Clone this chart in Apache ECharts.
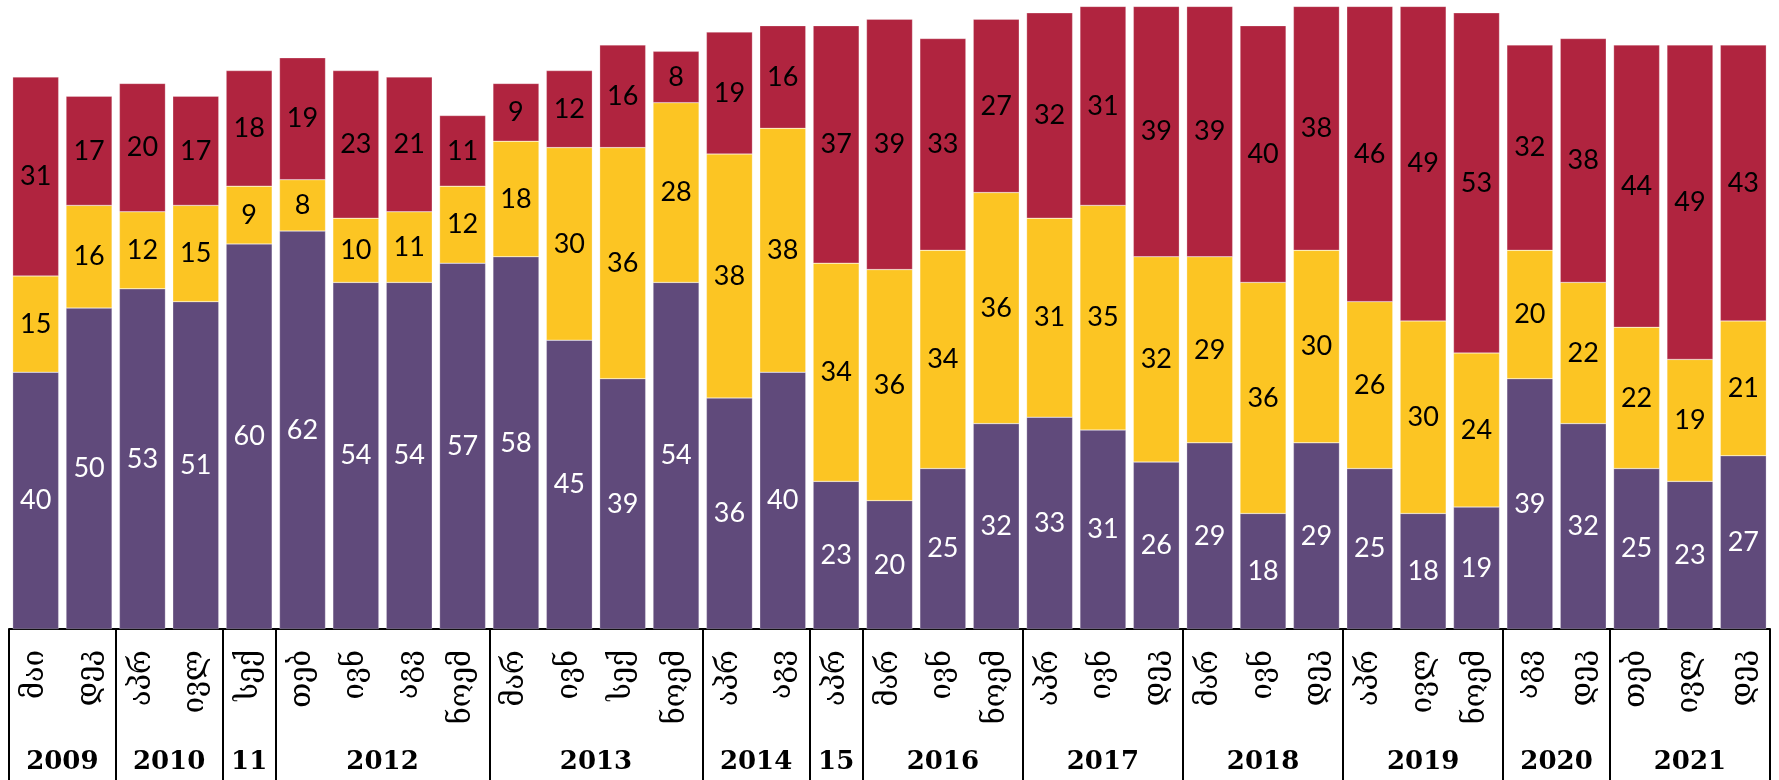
<!DOCTYPE html>
<html>
<head>
<meta charset="utf-8">
<script src="https://cdn.jsdelivr.net/npm/echarts@6/dist/echarts.min.js"></script>
<style>
html,body{margin:0;padding:0;background:#fff;}
#chart{width:1779px;height:780px;}
</style>
</head>
<body>
<div id="chart"></div>
<script>
const months = ['მაი','დეკ','აპრ','ივლ','სექ','თებ','ივნ','აგვ','ნოემ','მარ','ივნ','სექ','ნოემ','აპრ','აგვ','აპრ','მარ','ივნ','ნოემ','აპრ','ივნ','დეკ','მარ','ივნ','დეკ','აპრ','ივლ','ნოემ','აგვ','დეკ','თებ','ივლ','დეკ'];
const years = ['2009','2010','11','2012','2013','2014','15','2016','2017','2018','2019','2020','2021'];
const yearSizes = [2,2,1,4,4,2,1,3,3,3,3,2,3];
const purple = [40,50,53,51,60,62,54,54,57,58,45,39,54,36,40,23,20,25,32,33,31,26,29,18,29,25,18,19,39,32,25,23,27];
const yellow = [15,16,12,15,9,8,10,11,12,18,30,36,28,38,38,34,36,34,36,31,35,32,29,36,30,26,30,24,20,22,22,19,21];
const red    = [31,17,20,17,18,19,23,21,11,9,12,16,8,19,16,37,39,33,27,32,31,39,39,40,38,46,49,53,32,38,44,49,43];

// group boundaries and centers (in category index units)
const bounds = [-0.5];
const centers = [];
let acc = 0;
yearSizes.forEach(s => { centers.push(acc + (s - 1) / 2); acc += s; bounds.push(acc - 0.5); });

const chart = echarts.init(document.getElementById('chart'));
const labelFont = 'Lato, "Open Sans", sans-serif';
function mk(name, data, color, txt) {
  return {
    name, type: 'bar', stack: 'all', data,
    barWidth: 46,
    itemStyle: { color: color, borderColor: 'rgba(255,255,255,0.5)', borderWidth: 0.5 },
    label: { show: true, position: 'inside', color: txt, fontSize: 27, fontFamily: labelFont },
    emphasis: { disabled: true }
  };
}
chart.setOption({
  animation: false,
  backgroundColor: '#fff',
  grid: { left: 9, right: 9, top: 0, bottom: 151 },
  xAxis: [
    {
      type: 'category', data: months, position: 'bottom',
      axisLine: { show: true, lineStyle: { color: '#000', width: 2 } },
      axisTick: { show: false },
      axisLabel: { interval: 0, rotate: 90, margin: 21, fontSize: 29, color: '#000', fontFamily: '"DejaVu Serif", "DejaVu Sans", serif' }
    },
    {
      type: 'value', position: 'bottom', min: -0.5, max: 32.5,
      axisLine: { show: false },
      splitLine: { show: false },
      axisTick: { show: true, customValues: bounds, length: 155, inside: false, lineStyle: { color: '#000', width: 2 } },
      axisLabel: { show: true, customValues: centers, margin: 120, fontSize: 26, fontWeight: 'bold', color: '#000',
        fontFamily: '"DejaVu Serif", serif',
        formatter: v => { const i = centers.findIndex(c => Math.abs(c - v) < 1e-6); return i >= 0 ? years[i] : ''; } }
    }
  ],
  yAxis: { type: 'value', min: 0, max: 98, show: false },
  series: [
    mk('a', purple, '#604A7B', '#fff'),
    mk('b', yellow, '#FCC523', '#000'),
    mk('c', red, '#B0243F', '#000')
  ]
});
</script>
</body>
</html>
